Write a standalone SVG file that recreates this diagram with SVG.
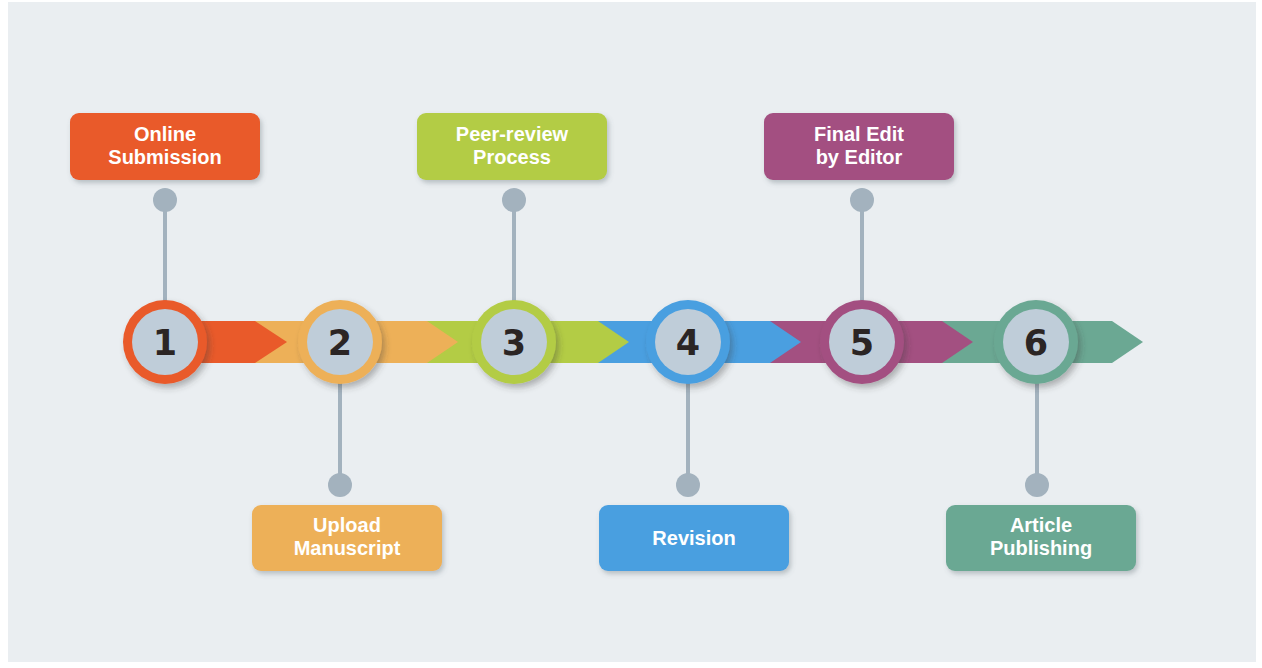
<svg xmlns="http://www.w3.org/2000/svg" width="1262" height="668" viewBox="0 0 1262 668">
<defs>
<filter id="sh" x="-20%" y="-20%" width="150%" height="160%">
<feDropShadow dx="2" dy="3" stdDeviation="2.5" flood-color="#5a6670" flood-opacity="0.35"/>
</filter>
<filter id="csh" x="-30%" y="-30%" width="170%" height="170%">
<feDropShadow dx="3" dy="4" stdDeviation="3" flood-color="#3a3a3a" flood-opacity="0.35"/>
</filter>
</defs>
<style>
.lbl{font-family:"Liberation Sans",Arial,sans-serif;font-weight:bold;font-size:20px;fill:#ffffff;text-anchor:middle}
.num{font-family:"DejaVu Sans","Liberation Sans",sans-serif;font-weight:bold;font-size:35px;fill:#2b2524;text-anchor:middle}
.inner{fill:#BFCDD9}
.stem{stroke:#A3B2BE;stroke-width:4}
.dot{fill:#A3B2BE}
.box{filter:url(#sh)}
</style>
<rect width="1262" height="668" fill="#ffffff"/>
<rect x="8" y="2" width="1248" height="660" fill="#EAEEF1"/>

<g id="band">
<polygon points="942,321 1112,321 1143,342 1112,363 942,363" fill="#6BA893"/>
<polygon points="770,321 942,321 973,342 942,363 770,363" fill="#A35081"/>
<polygon points="598,321 770,321 801,342 770,363 598,363" fill="#4A9FE0"/>
<polygon points="427,321 598,321 629,342 598,363 427,363" fill="#B3CC45"/>
<polygon points="255,321 427,321 458,342 427,363 255,363" fill="#EDB058"/>
<polygon points="165,321 255,321 287,342 255,363 165,363" fill="#E95A2A"/>
</g>

<g id="connectors">
<line class="stem" x1="165" y1="200" x2="165" y2="302"/>
<circle class="dot" cx="165" cy="200" r="12"/>
<line class="stem" x1="514" y1="200" x2="514" y2="302"/>
<circle class="dot" cx="514" cy="200" r="12"/>
<line class="stem" x1="862" y1="200" x2="862" y2="302"/>
<circle class="dot" cx="862" cy="200" r="12"/>
<line class="stem" x1="340" y1="382" x2="340" y2="485"/>
<circle class="dot" cx="340" cy="485" r="12"/>
<line class="stem" x1="688" y1="382" x2="688" y2="485"/>
<circle class="dot" cx="688" cy="485" r="12"/>
<line class="stem" x1="1037" y1="382" x2="1037" y2="485"/>
<circle class="dot" cx="1037" cy="485" r="12"/>
</g>

<g id="step1">
<circle cx="165" cy="342" r="42" fill="#E95A2A" filter="url(#csh)"/>
<circle class="inner" cx="165" cy="342" r="33"/>
<text class="num" x="165" y="355">1</text>
<rect class="box" x="70" y="113" width="190" height="67" rx="9" fill="#E95A2A"/>
<text class="lbl" x="165" y="141">Online</text>
<text class="lbl" x="165" y="164">Submission</text>
</g>

<g id="step2">
<circle cx="340" cy="342" r="42" fill="#EDB058" filter="url(#csh)"/>
<circle class="inner" cx="340" cy="342" r="33"/>
<text class="num" x="340" y="355">2</text>
<rect class="box" x="252" y="505" width="190" height="66" rx="9" fill="#EDB058"/>
<text class="lbl" x="347" y="532">Upload</text>
<text class="lbl" x="347" y="555">Manuscript</text>
</g>

<g id="step3">
<circle cx="514" cy="342" r="42" fill="#B3CC45" filter="url(#csh)"/>
<circle class="inner" cx="514" cy="342" r="33"/>
<text class="num" x="514" y="355">3</text>
<rect class="box" x="417" y="113" width="190" height="67" rx="9" fill="#B3CC45"/>
<text class="lbl" x="512" y="141">Peer-review</text>
<text class="lbl" x="512" y="164">Process</text>
</g>

<g id="step4">
<circle cx="688" cy="342" r="42" fill="#4A9FE0" filter="url(#csh)"/>
<circle class="inner" cx="688" cy="342" r="33"/>
<text class="num" x="688" y="355">4</text>
<rect class="box" x="599" y="505" width="190" height="66" rx="9" fill="#4A9FE0"/>
<text class="lbl" x="694" y="545">Revision</text>
</g>

<g id="step5">
<circle cx="862" cy="342" r="42" fill="#A35081" filter="url(#csh)"/>
<circle class="inner" cx="862" cy="342" r="33"/>
<text class="num" x="862" y="355">5</text>
<rect class="box" x="764" y="113" width="190" height="67" rx="9" fill="#A35081"/>
<text class="lbl" x="859" y="141">Final Edit</text>
<text class="lbl" x="859" y="164">by Editor</text>
</g>

<g id="step6">
<circle cx="1036" cy="342" r="42" fill="#6BA893" filter="url(#csh)"/>
<circle class="inner" cx="1036" cy="342" r="33"/>
<text class="num" x="1036" y="355">6</text>
<rect class="box" x="946" y="505" width="190" height="66" rx="9" fill="#6BA893"/>
<text class="lbl" x="1041" y="532">Article</text>
<text class="lbl" x="1041" y="555">Publishing</text>
</g>
</svg>
